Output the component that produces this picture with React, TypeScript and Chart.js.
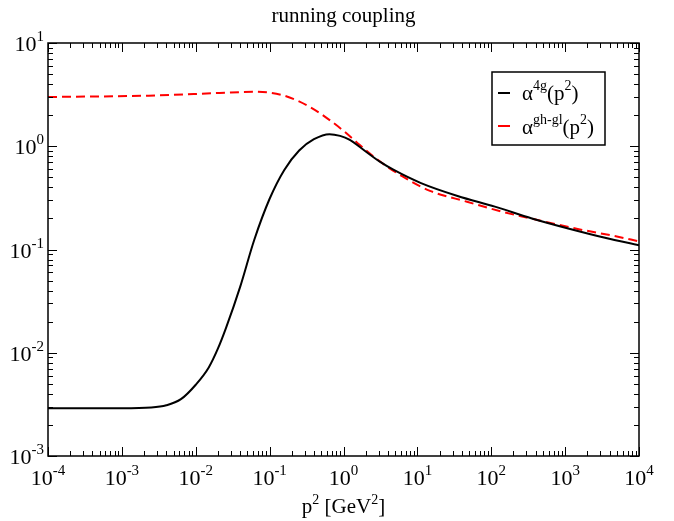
import React, { useEffect, useRef } from "react";
import { Chart, registerables } from "chart.js";

Chart.register(...registerables);

const titleText = "running coupling";
const xTickExponents = [-4, -3, -2, -1, 0, 1, 2, 3, 4];
const yTickExponents = [-3, -2, -1, 0, 1];

const alpha4gX = [1e-4, 1e-3, 2.5e-3, 4e-3, 6.3e-3, 0.01, 0.015, 0.02, 0.0257, 0.04, 0.0617, 0.1, 0.158, 0.251, 0.398, 0.646, 0.9, 1.2, 2.04, 3.1, 4.8, 11.2, 35, 112, 355, 1100, 3470, 1e4];
const alpha4gY = [0.0029, 0.0029, 0.00295, 0.0031, 0.00355, 0.0049, 0.0072, 0.011, 0.0174, 0.0437, 0.123, 0.31, 0.59, 0.91, 1.17, 1.31, 1.26, 1.16, 0.88, 0.71, 0.59, 0.44, 0.33, 0.26, 0.2, 0.16, 0.13, 0.11];

const alphaGhX = [1e-4, 2.3e-3, 0.021, 0.063, 0.148, 0.345, 0.645, 1.0, 1.58, 2.5, 3.6, 6.3, 14.8, 47, 148, 468, 1480, 4680, 1e4];
const alphaGhY = [3.0, 3.09, 3.28, 3.37, 3.13, 2.42, 1.8, 1.41, 1.06, 0.805, 0.66, 0.51, 0.37, 0.29, 0.23, 0.19, 0.158, 0.135, 0.12];

const FONT = '"Liberation Serif", "Times New Roman", serif';

function drawPow(ctx: CanvasRenderingContext2D, base: string, sup: string, x: number, y: number, align: "center" | "right", size: number, supSize: number) {
  ctx.font = `${size}px ${FONT}`;
  const wb = ctx.measureText(base).width;
  ctx.font = `${supSize}px ${FONT}`;
  const ws = ctx.measureText(sup).width;
  const total = wb + ws;
  const x0 = align === "center" ? x - total / 2 : x - total;
  ctx.textAlign = "left";
  ctx.textBaseline = "alphabetic";
  ctx.font = `${size}px ${FONT}`;
  ctx.fillText(base, x0, y);
  ctx.font = `${supSize}px ${FONT}`;
  ctx.fillText(sup, x0 + wb, y - size * 0.45);
}

const framePlugin = {
  id: "framePlugin",
  afterDraw(chart: any) {
    const ctx: CanvasRenderingContext2D = chart.ctx;
    const { left, right, top, bottom } = chart.chartArea;
    const xs = chart.scales.x;
    const ys = chart.scales.y;
    ctx.save();
    ctx.fillStyle = "#000";
    ctx.strokeStyle = "#000";
    ctx.lineWidth = 1.5;
    ctx.strokeRect(left, top, right - left, bottom - top);

    ctx.lineWidth = 1;
    ctx.beginPath();
    for (let e = -4; e <= 4; e++) {
      for (let m = 1; m <= 9; m++) {
        const v = m * Math.pow(10, e);
        if (v > 1e4 * 1.0001) continue;
        const px = Math.round(xs.getPixelForValue(v)) + 0.5;
        const len = m === 1 ? 9 : 5;
        ctx.moveTo(px, bottom);
        ctx.lineTo(px, bottom - len);
        ctx.moveTo(px, top);
        ctx.lineTo(px, top + len);
      }
    }
    for (let e = -3; e <= 1; e++) {
      for (let m = 1; m <= 9; m++) {
        const v = m * Math.pow(10, e);
        if (v > 10 * 1.0001) continue;
        const py = Math.round(ys.getPixelForValue(v)) + 0.5;
        const len = m === 1 ? 9 : 5;
        ctx.moveTo(left, py);
        ctx.lineTo(left + len, py);
        ctx.moveTo(right, py);
        ctx.lineTo(right - len, py);
      }
    }
    ctx.stroke();

    for (const e of xTickExponents) {
      const px = xs.getPixelForValue(Math.pow(10, e));
      drawPow(ctx, "10", String(e), px, bottom + 29, "center", 22, 15);
    }
    for (const e of yTickExponents) {
      const py = ys.getPixelForValue(Math.pow(10, e));
      drawPow(ctx, "10", String(e), left - 4, py + 8, "right", 22, 15);
    }

    ctx.font = `21px ${FONT}`;
    ctx.textAlign = "center";
    ctx.textBaseline = "alphabetic";
    ctx.fillText(titleText, (left + right) / 2, 22);

    {
      const parts: [string, boolean][] = [["p", false], ["2", true], [" [GeV", false], ["2", true], ["]", false]];
      let w = 0;
      for (const [t, s] of parts) {
        ctx.font = `${s ? 14 : 21}px ${FONT}`;
        w += ctx.measureText(t).width;
      }
      let x = (left + right) / 2 - w / 2;
      const y = 513;
      ctx.textAlign = "left";
      for (const [t, s] of parts) {
        ctx.font = `${s ? 14 : 21}px ${FONT}`;
        ctx.fillText(t, x, s ? y - 9 : y);
        x += ctx.measureText(t).width;
      }
    }

    const lx = 492, ly = 72, lw = 113, lh = 73;
    ctx.lineWidth = 1.5;
    ctx.fillStyle = "#fff";
    ctx.fillRect(lx, ly, lw, lh);
    ctx.strokeStyle = "#000";
    ctx.strokeRect(lx, ly, lw, lh);
    const entries = [
      { color: "#000", sup: "4g", y: 100, sy: 93 },
      { color: "#ff0000", sup: "gh-gl", y: 134, sy: 126 },
    ];
    for (const en of entries) {
      ctx.strokeStyle = en.color;
      ctx.lineWidth = 2;
      ctx.beginPath();
      ctx.moveTo(498, en.sy);
      ctx.lineTo(510, en.sy);
      ctx.stroke();
      ctx.fillStyle = "#000";
      let x = 522;
      const segs: [string, boolean][] = [["\u03b1", false], [en.sup, true], ["(p", false], ["2", true], [")", false]];
      for (const [t, s] of segs) {
        ctx.font = `${s ? 14 : 21}px ${FONT}`;
        ctx.fillText(t, x, s ? en.y - 10 : en.y);
        x += ctx.measureText(t).width;
      }
    }
    ctx.restore();
  },
};

export default function App() {
  const ref = useRef<HTMLCanvasElement | null>(null);
  useEffect(() => {
    if (!ref.current) return;
    const toPts = (xs: number[], ys: number[]) => xs.map((x, i) => ({ x, y: ys[i] }));
    const chart = new Chart(ref.current, {
      type: "line",
      data: {
        datasets: [
          {
            label: "alpha4g",
            data: toPts(alpha4gX, alpha4gY),
            borderColor: "#000",
            borderWidth: 2,
            pointRadius: 0,
            cubicInterpolationMode: "monotone",
            fill: false,
          },
          {
            label: "alphaghgl",
            data: toPts(alphaGhX, alphaGhY),
            borderColor: "#ff0000",
            borderWidth: 2,
            borderDash: [9, 5],
            pointRadius: 0,
            cubicInterpolationMode: "monotone",
            fill: false,
          },
        ],
      },
      options: {
        responsive: false,
        animation: false,
        layout: { padding: { left: 48, right: 35, top: 43, bottom: 65 } },
        plugins: { legend: { display: false }, title: { display: false }, tooltip: { enabled: false } },
        scales: {
          x: { type: "logarithmic", min: 1e-4, max: 1e4, display: false },
          y: { type: "logarithmic", min: 1e-3, max: 10, display: false },
        },
      },
      plugins: [framePlugin],
    });
    return () => chart.destroy();
  }, []);
  return (
    <div style={{ position: "fixed", left: 0, top: 0, width: 674, height: 521, background: "#fff" }}>
      <canvas ref={ref} width={674} height={521} style={{ display: "block" }} />
    </div>
  );
}
